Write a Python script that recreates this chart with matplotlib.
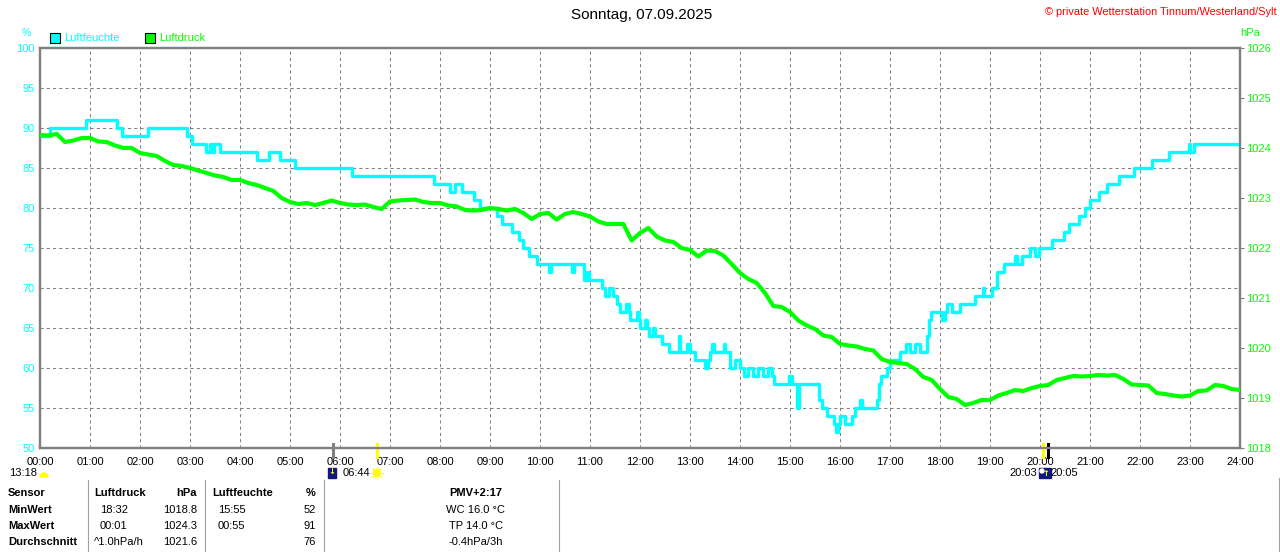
import numpy as np
import matplotlib
matplotlib.use("Agg")
import matplotlib.pyplot as plt
from matplotlib.patches import Rectangle, Circle, Wedge
from matplotlib.lines import Line2D
from matplotlib.transforms import Affine2D, blended_transform_factory

plt.rcParams['font.family'] = ['Liberation Sans', 'DejaVu Sans']

W, H = 1280, 552
CYAN = '#00FFFF'
GREEN = '#00FF00'
GRAY = '#808080'

# humidity: hour where a step starts and the value in %
hum_hours = [0.0, 0.2, 0.91, 1.54, 1.63, 2.15, 2.93, 3.03, 3.32, 3.40, 3.43, 3.47, 3.6,
             4.33, 4.57, 4.8, 5.1, 6.23, 7.87, 8.2, 8.3, 8.43, 8.67, 8.8, 9.13, 9.23,
             9.43, 9.57, 9.65, 9.77, 9.93, 10.17, 10.22, 10.63, 10.67, 10.87, 10.93,
             10.97, 11.23, 11.3, 11.37, 11.45, 11.53, 11.6, 11.72, 11.77, 11.8, 11.93,
             11.97, 12.0, 12.1, 12.13, 12.17, 12.25, 12.3, 12.43, 12.57, 12.77, 12.8,
             12.93, 13.0, 13.1, 13.3, 13.35, 13.4, 13.43, 13.47, 13.67, 13.7, 13.8,
             13.9, 14.0, 14.07, 14.15, 14.25, 14.35, 14.45, 14.55, 14.63, 14.67, 14.97,
             15.03, 15.13, 15.17, 15.57, 15.63, 15.73, 15.87, 15.92, 15.95, 16.0, 16.1,
             16.23, 16.3, 16.4, 16.43, 16.73, 16.77, 16.83, 16.93, 17.0, 17.2, 17.33,
             17.4, 17.5, 17.6, 17.73, 17.77, 17.83, 18.03, 18.1, 18.13, 18.23, 18.4,
             18.7, 18.85, 18.88, 19.03, 19.13, 19.27, 19.5, 19.53, 19.63, 19.8, 19.9,
             19.97, 20.23, 20.47, 20.57, 20.77, 20.9, 21.0, 21.17, 21.33, 21.57, 21.87,
             22.23, 22.57, 22.97, 23.0, 23.07, 24.0]
hum_vals = [89, 90, 91, 90, 89, 90, 89, 88, 87, 88, 87, 88, 87,
            86, 87, 86, 85, 84, 83, 82, 83, 82, 81, 80, 79, 78,
            77, 76, 75, 74, 73, 72, 73, 72, 73, 71, 72,
            71, 70, 69, 70, 69, 68, 67, 68, 67, 66, 67,
            66, 65, 66, 65, 64, 65, 64, 63, 62, 64, 62,
            63, 62, 61, 60, 61, 62, 63, 62, 63, 62, 60,
            61, 60, 59, 60, 59, 60, 59, 60, 59, 58, 59,
            58, 55, 58, 56, 55, 54, 53, 52, 53, 54, 53,
            54, 55, 56, 55, 56, 58, 59, 60, 61, 62, 63,
            62, 63, 62, 64, 66, 67, 66, 67, 68, 67, 68,
            69, 70, 69, 70, 72, 73, 74, 73, 74, 75, 74,
            75, 76, 77, 78, 79, 80, 81, 82, 83, 84, 85,
            86, 87, 88, 87, 88, 88]

# air pressure every 10 minutes, hPa
press_vals = [
    1024.26, 1024.25, 1024.28, 1024.12, 1024.15, 1024.20,
    1024.20, 1024.13, 1024.12, 1024.05, 1024.00, 1024.00,
    1023.90, 1023.87, 1023.84, 1023.74, 1023.66, 1023.64,
    1023.60, 1023.55, 1023.50, 1023.45, 1023.42, 1023.36,
    1023.36, 1023.30, 1023.26, 1023.20, 1023.14, 1023.00,
    1022.92, 1022.88, 1022.90, 1022.86, 1022.90, 1022.95,
    1022.90, 1022.87, 1022.86, 1022.87, 1022.82, 1022.78,
    1022.93, 1022.95, 1022.96, 1022.97, 1022.92, 1022.90,
    1022.90, 1022.85, 1022.83, 1022.76, 1022.75, 1022.76,
    1022.80, 1022.78, 1022.75, 1022.78, 1022.70, 1022.58,
    1022.68, 1022.70, 1022.57, 1022.68, 1022.72, 1022.68,
    1022.63, 1022.53, 1022.48, 1022.48, 1022.48, 1022.15,
    1022.30, 1022.40, 1022.23, 1022.15, 1022.12, 1022.00,
    1021.96, 1021.83, 1021.95, 1021.94, 1021.85, 1021.68,
    1021.50, 1021.38, 1021.30, 1021.10, 1020.84, 1020.82,
    1020.72, 1020.55, 1020.45, 1020.38, 1020.25, 1020.22,
    1020.08, 1020.05, 1020.03, 1019.98, 1019.95, 1019.78,
    1019.72, 1019.70, 1019.68, 1019.58, 1019.42, 1019.36,
    1019.18, 1019.02, 1018.98, 1018.86, 1018.90, 1018.96,
    1018.96, 1019.05, 1019.10, 1019.16, 1019.14, 1019.20,
    1019.24, 1019.26, 1019.36, 1019.40, 1019.44, 1019.43,
    1019.44, 1019.46, 1019.45, 1019.46, 1019.38, 1019.27,
    1019.26, 1019.25, 1019.10, 1019.08, 1019.05, 1019.03,
    1019.05, 1019.14, 1019.15, 1019.26, 1019.24, 1019.18,
    1019.16]
press_hours = np.arange(len(press_vals)) / 6.0

hour_labels = ["%02d:00" % h for h in range(25)]
hum_ticks = list(range(50, 101, 5))
press_ticks = list(range(1018, 1027))

# table under the chart
table_rows = ["Sensor", "MinWert", "MaxWert", "Durchschnitt"]
druck_times = ["", "18:32", "00:01", "^1.0hPa/h"]
druck_vals = ["hPa", "1018.8", "1024.3", "1021.6"]
feuchte_times = ["", "15:55", "00:55", ""]
feuchte_vals = ["%", "52", "91", "76"]
extra_info = ["PMV+2:17", "WC 16.0 °C", "TP 14.0 °C", "-0.4hPa/3h"]

fig = plt.figure(figsize=(W / 100, H / 100), dpi=100)
fig.patch.set_facecolor('white')
# pixel coordinates measured from the top left corner
pix = Affine2D().scale(1, -1).translate(0, H)

ax = fig.add_axes([40 / W, (H - 448) / H, 1200 / W, 400 / H])
ax2 = ax.twinx()

ax.set_xlim(0, 24)
ax.set_ylim(50, 100)
ax2.set_ylim(1018, 1026)
ax.set_xticks(range(25))
ax.set_xticklabels(hour_labels)
ax.set_yticks(hum_ticks)
ax2.set_yticks(press_ticks)

ax.grid(True, color=GRAY, linestyle=(0, (3, 3)), linewidth=0.75)
ax.set_axisbelow(True)

for a in (ax, ax2):
    for s in a.spines.values():
        s.set_color(GRAY)
        s.set_linewidth(1.6)

ax.tick_params(axis='y', length=0, pad=4, labelcolor=CYAN, labelsize=8)
ax.tick_params(axis='x', length=0, pad=6.5, labelcolor='black', labelsize=8)
ax2.tick_params(axis='y', length=3, width=0.8, color=GRAY, pad=1.5,
                labelcolor=GREEN, labelsize=8)

ax.step(hum_hours, hum_vals, where='post', color=CYAN, lw=2.4, zorder=3)
ax2.plot(press_hours, press_vals, color=GREEN, lw=3.0, zorder=3)

# sun / moon markers on the time axis
trans = blended_transform_factory(ax.transData, ax.transAxes)
events = [(5 + 52 / 60, GRAY), (6 + 44 / 60, '#FFFF00'), (20 + 3 / 60, '#FFFF00'),
          (20 + 9 / 60, 'black')]
for t, c in events:
    ax.plot([t, t], [-0.0225, 0.01], color=c, lw=2.2, transform=trans,
            clip_on=False, zorder=5)

# header texts
fig.text(642, 15, "Sonntag, 07.09.2025", transform=pix, ha='center', va='center',
         fontsize=11)
fig.text(1277, 12, "© private Wetterstation Tinnum/Westerland/Sylt", transform=pix,
         ha='right', va='center', fontsize=7.9, color='#FF0000')
fig.text(26, 33, "%", transform=pix, ha='center', va='center', fontsize=7.5,
         color=CYAN)
fig.text(1240, 33, "hPa", transform=pix, ha='left', va='center', fontsize=8,
         color=GREEN)

# legend
fig.add_artist(Rectangle((50, 43), 10, -10, transform=pix, facecolor=CYAN,
                         edgecolor='black', lw=0.8))
fig.text(64, 38, "Luftfeuchte", transform=pix, va='center', fontsize=8, color=CYAN)
fig.add_artist(Rectangle((145, 43), 10, -10, transform=pix, facecolor=GREEN,
                         edgecolor='black', lw=0.8))
fig.text(159, 38, "Luftdruck", transform=pix, va='center', fontsize=8, color=GREEN)

# sun and moon times
fig.text(9, 473, "13:18", transform=pix, va='center', fontsize=8)
fig.add_artist(Wedge((44, 477), 4, 180, 360, transform=pix, color='#FFFF00'))
fig.add_artist(Rectangle((328, 478), 8, -10, transform=pix, facecolor='#101880',
                         edgecolor='#101880'))
fig.text(332, 472, "↓", transform=pix, ha='center', va='center', fontsize=6,
         color='#FFFF00', family='DejaVu Sans', fontweight='bold')
fig.text(343, 473, "06:44", transform=pix, va='center', fontsize=8)
fig.add_artist(Circle((377, 473), 3.5, transform=pix, color='#FFFF00'))
for k in range(8):
    ang = k * np.pi / 4
    fig.add_artist(Line2D([377 + 4.5 * np.cos(ang), 377 + 6 * np.cos(ang)],
                          [473 + 4.5 * np.sin(ang), 473 + 6 * np.sin(ang)],
                          transform=pix, color='#FFFF00', lw=0.8))
fig.text(1037, 473, "20:03", transform=pix, ha='right', va='center', fontsize=8)
fig.add_artist(Rectangle((1039, 478), 12, -10, transform=pix, facecolor='#101880',
                         edgecolor='#101880'))
fig.add_artist(Circle((1042, 471), 2, transform=pix, color='white'))
fig.text(1046, 474, "↑", transform=pix, ha='center', va='center', fontsize=6,
         color='#FFFF00', family='DejaVu Sans', fontweight='bold')
fig.text(1050, 473, "20:05", transform=pix, ha='left', va='center', fontsize=8)

# table separators
for x in (88, 205, 324, 559):
    fig.add_artist(Line2D([x, x], [480, 552], transform=pix, color='#A0A0A0', lw=0.8))
fig.add_artist(Line2D([1279, 1279], [478, 552], transform=pix, color='#A0A0A0', lw=0.8))

row_y = [493, 510, 526, 542]
for i, y in enumerate(row_y):
    fig.text(8, y, table_rows[i], transform=pix, va='center', fontsize=8,
             fontweight='bold')
    if i == 0:
        fig.text(94, y, "Luftdruck", transform=pix, va='center', fontsize=8,
                 fontweight='bold')
        fig.text(197, y, druck_vals[i], transform=pix, ha='right', va='center',
                 fontsize=8, fontweight='bold')
        fig.text(212, y, "Luftfeuchte", transform=pix, va='center', fontsize=8,
                 fontweight='bold')
        fig.text(316, y, feuchte_vals[i], transform=pix, ha='right', va='center',
                 fontsize=8, fontweight='bold')
        fig.text(476, y, extra_info[i], transform=pix, ha='center', va='center',
                 fontsize=8, fontweight='bold')
    else:
        x0 = 94 if druck_times[i].startswith("^") else 100
        fig.text(x0, y, druck_times[i], transform=pix, va='center', fontsize=8)
        fig.text(197, y, druck_vals[i], transform=pix, ha='right', va='center',
                 fontsize=8)
        fig.text(218, y, feuchte_times[i], transform=pix, va='center', fontsize=8)
        fig.text(316, y, feuchte_vals[i], transform=pix, ha='right', va='center',
                 fontsize=8)
        fig.text(476, y, extra_info[i], transform=pix, ha='center', va='center',
                 fontsize=8)

fig.savefig("out.png", dpi=100)
